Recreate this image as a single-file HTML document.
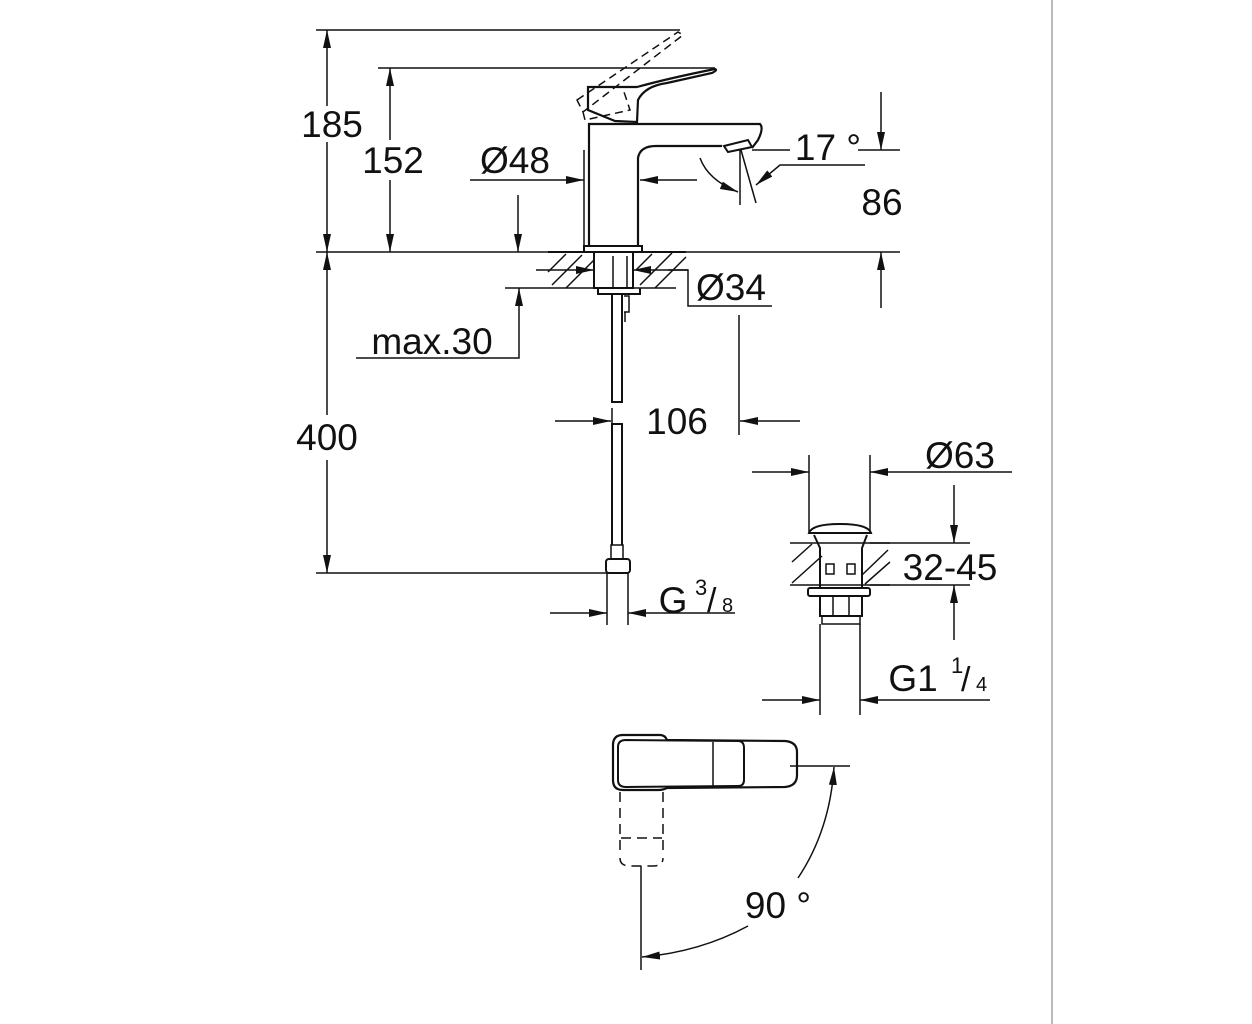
<!DOCTYPE html>
<html><head><meta charset="utf-8"><style>
html,body{margin:0;padding:0;background:#fff}
svg{display:block}
text{font-family:"Liberation Sans",sans-serif;fill:#111}
</style></head><body>
<svg width="1252" height="1024" viewBox="0 0 1252 1024" xmlns="http://www.w3.org/2000/svg">
<defs>
<marker id="a" viewBox="0 0 18 8" refX="18" refY="4" markerWidth="18" markerHeight="8" markerUnits="userSpaceOnUse" orient="auto-start-reverse"><path d="M0,0L18,4L0,8z" fill="#111"/></marker>
</defs>
<line x1="1052" y1="0" x2="1052" y2="1024" stroke="#bbb" stroke-width="2"/>
<g stroke="#111" stroke-width="1.5" fill="none">
<line x1="316" y1="30" x2="680" y2="30"/>
<line x1="378" y1="68" x2="715" y2="68"/>
<line x1="316" y1="252" x2="900" y2="252"/>
<line x1="316" y1="573" x2="612" y2="573"/>
<line x1="327" y1="30" x2="327" y2="106" marker-start="url(#a)"/>
<line x1="327" y1="142" x2="327" y2="252" marker-end="url(#a)"/>
<line x1="390" y1="68" x2="390" y2="140" marker-start="url(#a)"/>
<line x1="390" y1="180" x2="390" y2="252" marker-end="url(#a)"/>
<line x1="327" y1="252" x2="327" y2="415" marker-start="url(#a)"/>
<line x1="327" y1="460" x2="327" y2="573" marker-end="url(#a)"/>
<line x1="470" y1="180" x2="584" y2="180" marker-end="url(#a)"/>
<line x1="697" y1="180" x2="640" y2="180" marker-end="url(#a)"/>
<line x1="584" y1="150" x2="584" y2="245"/>
<path d="M589,246 L589,124 L760,124 Q764,128 758,140 L752,148" stroke-width="2.2"/>
<path d="M638,246 L638,158 Q640,146 656,146 L722,146" stroke-width="2.2"/>
<path d="M724,146 L748,140 L752,147 L728,152 Z" stroke-width="2"/>
<rect x="584" y="246" width="58" height="6" stroke-width="2"/>
<path d="M588,87 L588,110 L615,121 L637,122 L638,100 Q645,86 667,83 L712,73 Q718,70 715,69 Q670,78 637,87 Z" stroke-width="2.2"/>
<path d="M577,100 L678,32 L683,35 L583,112 Z M583,112 L585,120 L630,110 L624,92" stroke-dasharray="8,5"/>
<line x1="752" y1="150" x2="790" y2="150"/>
<line x1="858" y1="150" x2="900" y2="150"/>
<line x1="740" y1="150" x2="740" y2="205"/>
<line x1="741" y1="150" x2="756" y2="203"/>
<path d="M700,158 Q708,180 738,192" marker-end="url(#a)"/>
<path d="M865,165 L780,165 L756,185" marker-end="url(#a)"/>
<line x1="881" y1="92" x2="881" y2="150" marker-end="url(#a)"/>
<line x1="881" y1="308" x2="881" y2="252" marker-end="url(#a)"/>
<line x1="518" y1="195" x2="518" y2="252" marker-end="url(#a)"/>
<line x1="505" y1="288" x2="676" y2="288"/>
<path d="M356,358 L519,358 L519,288" marker-end="url(#a)"/>
<line x1="548" y1="252" x2="686" y2="252" stroke-width="2"/>
<g stroke-width="1.5">
<line x1="552" y1="285" x2="582" y2="255"/><line x1="566" y1="288" x2="594" y2="260"/><line x1="548" y1="272" x2="566" y2="254"/>
<line x1="640" y1="285" x2="672" y2="253"/><line x1="655" y1="288" x2="686" y2="257"/><line x1="636" y1="270" x2="652" y2="254"/>
</g>
<rect x="594" y="252" width="39" height="36" stroke-width="2"/>
<line x1="613" y1="256" x2="613" y2="288"/><line x1="627" y1="256" x2="627" y2="288"/>
<path d="M598,288 L598,294 L640,294 L640,288" stroke-width="2"/>
<line x1="536" y1="270" x2="594" y2="270" marker-end="url(#a)"/>
<path d="M688,270 L668,270 L633,270" marker-end="url(#a)"/>
<path d="M668,270 L688,270 L688,306 L772,306"/>
<path d="M612,294 L612,402 L622,402 L622,294" stroke-width="2"/>
<path d="M624,296 L629,296 L629,312 L624,312 M625,312 L625,322" stroke-width="1.5"/>
<path d="M612,545 L612,424 L622,424 L622,545" stroke-width="2"/>
<rect x="611" y="545" width="12" height="14" stroke-width="1.5"/>
<rect x="606" y="559" width="24" height="14" rx="3" stroke-width="2"/>
<line x1="607" y1="573" x2="607" y2="625"/><line x1="628" y1="573" x2="628" y2="625"/>
<line x1="555" y1="421" x2="611" y2="421" marker-end="url(#a)"/>
<line x1="612" y1="408" x2="612" y2="435"/>
<line x1="739" y1="315" x2="739" y2="435"/>
<line x1="800" y1="421" x2="740" y2="421" marker-end="url(#a)"/>
<line x1="550" y1="613" x2="607" y2="613" marker-end="url(#a)"/>
<line x1="735" y1="613" x2="628" y2="613" marker-end="url(#a)"/>
<line x1="752" y1="472" x2="809" y2="472" marker-end="url(#a)"/>
<line x1="1012" y1="472" x2="870" y2="472" marker-end="url(#a)"/>
<line x1="809" y1="455" x2="809" y2="532"/><line x1="870" y1="455" x2="870" y2="532"/>
<path d="M809,533 Q812,524 840,524 Q868,524 871,533 Z" stroke-width="2"/>
<line x1="790" y1="543" x2="890" y2="543"/><line x1="870" y1="543" x2="970" y2="543"/>
<line x1="790" y1="585" x2="890" y2="585"/><line x1="870" y1="585" x2="970" y2="585"/>
<line x1="792" y1="562" x2="812" y2="544"/><line x1="792" y1="583" x2="822" y2="556"/>
<line x1="862" y1="575" x2="888" y2="550"/><line x1="865" y1="584" x2="890" y2="562"/>
<path d="M814,535 L820,548 L820,588 L862,588 L862,548 L867,535" stroke-width="2"/>
<rect x="826" y="564" width="8" height="10" stroke-width="1.5"/><rect x="847" y="564" width="8" height="10" stroke-width="1.5"/>
<rect x="808" y="588" width="62" height="8" rx="2" stroke-width="2"/>
<rect x="820" y="596" width="42" height="20" stroke-width="2"/>
<line x1="833" y1="596" x2="833" y2="616"/><line x1="849" y1="596" x2="849" y2="616"/>
<rect x="822" y="616" width="38" height="8" stroke-width="1.5"/>
<line x1="820" y1="624" x2="820" y2="715"/><line x1="860" y1="624" x2="860" y2="715"/>
<line x1="954" y1="485" x2="954" y2="543" marker-end="url(#a)"/>
<line x1="954" y1="640" x2="954" y2="585" marker-end="url(#a)"/>
<line x1="762" y1="700" x2="820" y2="700" marker-end="url(#a)"/>
<line x1="990" y1="700" x2="860" y2="700" marker-end="url(#a)"/>
<path d="M623,735 L660,735 Q665,735 667,740 L785,741 Q797,742 797,752 L797,775 Q797,786 785,787 L667,788 Q663,790 658,790 L623,790 Q613,790 613,780 L613,745 Q613,735 623,735 Z" stroke-width="2.2"/>
<path d="M626,740 L738,741 Q744,741 744,748 L744,780 Q744,786 738,786 L626,787 Q618,787 618,780 L618,747 Q618,740 626,740 Z" stroke-width="2"/>
<line x1="713" y1="742" x2="713" y2="786"/>
<g stroke-dasharray="10,6">
<line x1="620" y1="792" x2="620" y2="855"/><line x1="663" y1="792" x2="663" y2="855"/>
<path d="M621,838 L662,838"/>
<path d="M620,858 Q620,866 630,866 L653,866 Q663,866 663,858"/>
</g>
<line x1="641" y1="866" x2="641" y2="970"/>
<line x1="790" y1="766" x2="850" y2="766"/>
<path d="M798,878 Q830,830 834,767" marker-end="url(#a)"/>
<path d="M748,926 Q700,952 642,957" marker-end="url(#a)"/>
</g>
<g font-size="37" text-anchor="middle">
<text x="332" y="137">185</text>
<text x="393" y="173">152</text>
<text x="327" y="450">400</text>
<text x="515" y="173">Ø48</text>
<text x="828" y="160">17 °</text>
<text x="882" y="215">86</text>
<text x="432" y="354">max.30</text>
<text x="731" y="300">Ø34</text>
<text x="677" y="434">106</text>
<text x="960" y="468">Ø63</text>
<text x="950" y="580">32-45</text>
<text x="913" y="691">G1</text>
<text x="778" y="918">90 °</text>
<text x="673" y="613">G</text>
</g>
<g font-size="22">
<text x="695" y="595">3</text><text x="707" y="612" font-size="34">/</text><text x="722" y="612" font-size="20">8</text>
<text x="951" y="673">1</text><text x="961" y="691" font-size="34">/</text><text x="976" y="691" font-size="20">4</text>
</g>
</svg>
</body></html>
